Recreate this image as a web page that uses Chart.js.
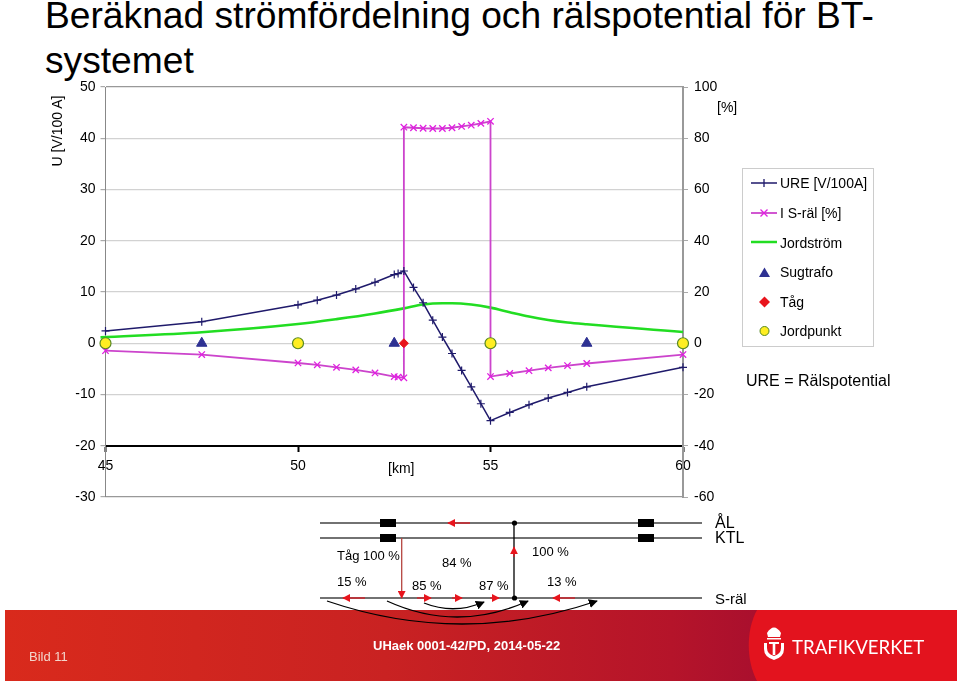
<!DOCTYPE html>
<html lang="sv">

<head>
  <meta charset="UTF-8">
  <title>Beräknad strömfördelning och rälspotential för BT-systemet</title>
  <script src="https://cdn.jsdelivr.net/npm/chart.js"></script>
  <style>
    body {
      margin: 0;
      background: #fff;
      font-family: "Liberation Sans", Arial, sans-serif;
      color: #000;
    }

    #page {
      position: relative;
      width: 960px;
      height: 683px;
      overflow: hidden;
    }

    #page canvas,
    #page svg {
      position: absolute;
      left: 0;
      top: 0;
    }

    .t {
      position: absolute;
      white-space: nowrap;
      transform: translateY(-50%);
      font-size: 13px;
    }

    .leg {
      font-size: 14px;
    }

    .title {
      position: absolute;
      left: 45px;
      font-size: 37.2px;
      line-height: 45px;
      white-space: nowrap;
    }

    #footer {
      position: absolute;
      left: 5px;
      top: 610px;
      width: 952px;
      height: 71px;
      background: linear-gradient(90deg, #d92a1c 0%, #c92222 40%, #b5142a 70%, #a80f2e 80%);
    }
  </style>
</head>

<body>
  <div id="page">
    <div class="title" style="top:-7px">Beräknad strömfördelning och rälspotential för BT-</div>
    <div class="title" style="top:38px">systemet</div>
    <div id="footer"></div>
    <canvas id="chart" width="960" height="683"></canvas>

    <svg width="960" height="683" viewBox="0 0 960 683">
      <defs>
        <marker id="red" viewBox="0 0 10 10" refX="9" refY="5" markerWidth="8" markerHeight="8" markerUnits="userSpaceOnUse" orient="auto">
          <path d="M0 0L10 5L0 10z" fill="#e8141c" />
        </marker>
        <marker id="blk" viewBox="0 0 10 10" refX="9" refY="5" markerWidth="9" markerHeight="9" markerUnits="userSpaceOnUse" orient="auto">
          <path d="M0 0L10 5L0 10z" fill="#000" />
        </marker>
      </defs>

      <!-- red logo field -->
      <path d="M757 610C746 630 746 660 757 681H957V610z" fill="#e3131e" />

      <!-- legend -->
      <rect x="742.5" y="168.5" width="131" height="178" fill="#fff" stroke="#ccc" />
      <path d="M751 183H777M764 179V187" stroke="#1f1a6b" stroke-width="1.3" fill="none" />
      <path d="M751 213H777" stroke="#cc44cc" stroke-width="1.8" />
      <path d="M760.5 209.5L767.5 216.5M767.5 209.5L760.5 216.5" stroke="#e020e0" stroke-width="1.3" />
      <path d="M751 242H777" stroke="#22dd22" stroke-width="2.5" />
      <path d="M759 277L764.5 267.5L770 277z" fill="#2e3192" />
      <path d="M764.5 296.5L770 302L764.5 307.5L759 302z" fill="#e8141c" />
      <circle cx="764.5" cy="331" r="4.5" fill="#ffee22" stroke="#558822" />

      <!-- track diagram -->
      <path d="M320 523H702M320 538H702M320 598H702" stroke="#444" stroke-width="1.3" fill="none" />
      <path d="M380 519h16v8h-16zM380 534h16v8h-16zM638 519h16v8h-16zM638 534h16v8h-16z" fill="#000" />
      <path d="M514 523V598" stroke="#000" stroke-width="1.3" />
      <circle cx="514.5" cy="523" r="2.6" fill="#000" />
      <circle cx="514.5" cy="598" r="2.6" fill="#000" />
      <path d="M401.7 538V598" stroke="#b5453f" stroke-width="1.3" marker-end="url(#red)" />
      <g stroke="#e8141c" stroke-width="1.2" fill="none" marker-end="url(#red)">
        <path d="M470 523H448" marker-end="url(#red)" />
        <path d="M514 557V547" marker-end="url(#red)" />
        <path d="M365 598H343" marker-end="url(#red)" />
        <path d="M417 598H431" marker-end="url(#red)" />
        <path d="M452 598H462" marker-end="url(#red)" />
        <path d="M490 598H499" marker-end="url(#red)" />
        <path d="M575 598H553" marker-end="url(#red)" />
      </g>
      <g stroke="#000" stroke-width="1.3" fill="none">
        <path d="M327 601Q462 647 597 601" marker-end="url(#blk)" />
        <path d="M387 601Q457 633 528 601" marker-end="url(#blk)" />
        <path d="M424 603Q454 615 484 602" marker-end="url(#blk)" />
      </g>

      <!-- crest -->
      <g fill="#fff">
        <path d="M767 633Q774 622 781 633L780 637H768z" />
        <rect x="767" y="638" width="14" height="1.5" />
        <path d="M769 642H779V644H775.3V655H772.7V644H769z" />
        <path d="M764 643H767V648Q767 654 774 656Q781 654 781 648V643H784V649Q784 657 774 660Q764 657 764 649z" />
      </g>
    </svg>

    <span class="t" style="left:717px;top:107px;font-size:14px">[%]</span>
    <span class="t" style="left:388px;top:468px;font-size:14px">[km]</span>
    <span class="t" style="left:57px;top:131px;font-size:14px;transform:translate(-50%,-50%) rotate(-90deg)">U [V/100 A]</span>

    <span class="t leg" style="left:780px;top:183px">URE [V/100A]</span>
    <span class="t leg" style="left:780px;top:213px">I S-räl [%]</span>
    <span class="t leg" style="left:780px;top:243px">Jordström</span>
    <span class="t leg" style="left:780px;top:272px">Sugtrafo</span>
    <span class="t leg" style="left:780px;top:302px">Tåg</span>
    <span class="t leg" style="left:780px;top:331px">Jordpunkt</span>
    <span class="t" style="left:746px;top:381px;font-size:16px">URE = Rälspotential</span>

    <span class="t" style="left:337px;top:555px">Tåg 100 %</span>
    <span class="t" style="left:442px;top:562px">84 %</span>
    <span class="t" style="left:532px;top:551px">100 %</span>
    <span class="t" style="left:337px;top:581px">15 %</span>
    <span class="t" style="left:412px;top:585px">85 %</span>
    <span class="t" style="left:479px;top:585px">87 %</span>
    <span class="t" style="left:547px;top:581px">13 %</span>
    <span class="t" style="left:715px;top:523px;font-size:16px">ÅL</span>
    <span class="t" style="left:715px;top:538px;font-size:16px">KTL</span>
    <span class="t" style="left:715px;top:598px;font-size:15px">S-räl</span>

    <span class="t" style="left:29px;top:656px;color:#f3d6cc">Bild 11</span>
    <span class="t" style="left:373px;top:645px;color:#fff;font-weight:bold;font-size:13px">UHaek 0001-42/PD, 2014-05-22</span>
    <span class="t" style="left:792px;top:647px;color:#fff;font-size:18.6px;font-family:Lato">TRAFIKVERKET</span>
  </div>

  <script>
    // km along the line
    const kmUre = [45, 47.5, 50, 50.5, 51, 51.5, 52, 52.5, 52.6, 52.75, 53, 53.25, 53.5, 53.75, 54, 54.25, 54.5, 54.75, 55, 55.5, 56, 56.5, 57, 57.5, 60];
    const ure = [2.4, 4.2, 7.5, 8.4, 9.4, 10.6, 11.9, 13.4, 13.6, 14.1, 10.9, 7.9, 4.5, 1.2, -2.0, -5.3, -8.5, -11.8, -15.1, -13.5, -12.0, -10.7, -9.6, -8.5, -4.7];

    const kmRail = [45, 47.5, 50, 50.5, 51, 51.5, 52, 52.5, 52.6, 52.75, 52.75, 53, 53.25, 53.5, 53.75, 54, 54.25, 54.5, 54.75, 55, 55, 55.5, 56, 56.5, 57, 57.5, 60];
    const railCurrent = [-2.9, -4.4, -7.7, -8.4, -9.4, -10.4, -11.6, -13.0, -13.2, -13.5, 84.3, 84.1, 83.9, 83.8, 83.8, 84.1, 84.6, 85.1, 85.8, 86.6, -13.0, -11.8, -10.7, -9.6, -8.7, -7.9, -4.4];

    const kmEarth = [44.87, 47.5, 50, 51, 52, 52.75, 53.25, 53.75, 54, 54.5, 55, 55.5, 56, 56.5, 57, 57.5, 60, 60.12];
    const earthCurrent = [2.3, 4.3, 7.5, 9.4, 11.6, 13.6, 15.1, 15.6, 15.6, 15.1, 13.9, 12.1, 10.4, 9.1, 8.1, 7.4, 4.4, 4.3];

    const kmTransformers = [47.5, 52.5, 57.5];
    const kmTrain = [52.75];
    const kmEarthPoints = [45, 50, 55, 60];

    const toPoints = (xs, ys) => xs.map((x, i) => ({ x: x, y: ys ? ys[i] : 0 }));

    new Chart(document.getElementById('chart'), {
      type: 'scatter',
      data: {
        datasets: [
          { label: 'Tåg', data: toPoints(kmTrain), yAxisID: 'yL', pointStyle: 'rectRot', radius: 4.5, backgroundColor: '#e8141c', borderColor: '#e8141c' },
          { label: 'Jordpunkt', data: toPoints(kmEarthPoints), yAxisID: 'yL', pointStyle: 'circle', radius: 5.5, backgroundColor: '#ffee22', borderColor: '#558822', borderWidth: 1.2 },
          { label: 'Sugtrafo', data: toPoints(kmTransformers), yAxisID: 'yL', pointStyle: 'triangle', radius: 6, backgroundColor: '#2e3192', borderColor: '#2e3192' },
          { label: 'URE [V/100A]', data: toPoints(kmUre, ure), yAxisID: 'yL', showLine: true, borderColor: '#1f1a6b', borderWidth: 1.5, pointStyle: 'cross', radius: 4, pointBorderWidth: 1.2, pointBorderColor: '#1f1a6b' },
          { label: 'I S-räl [%]', data: toPoints(kmRail, railCurrent), yAxisID: 'yR', showLine: true, borderColor: '#cc44cc', borderWidth: 1.8, pointStyle: 'crossRot', radius: 4.5, pointBorderWidth: 1.3, pointBorderColor: '#e020e0' },
          { label: 'Jordström', data: toPoints(kmEarth, earthCurrent), yAxisID: 'yR', showLine: true, borderColor: '#22dd22', borderWidth: 2.6, radius: 0, cubicInterpolationMode: 'monotone' }
        ]
      },
      options: {
        responsive: false,
        animation: false,
        clip: false,
        layout: { padding: { left: 65.5, right: 237, top: 87, bottom: 186 } },
        plugins: { legend: { display: false }, tooltip: { enabled: false } },
        scales: {
          x: {
            type: 'linear',
            min: 45,
            max: 60,
            position: { yL: -20 },
            afterBuildTicks: axis => { axis.ticks = [45, 50, 55, 60].map(v => ({ value: v })); },
            border: { color: '#000', width: 2 },
            grid: { drawOnChartArea: false, drawTicks: true, tickColor: '#000', tickWidth: 2, tickLength: 5 },
            ticks: { color: '#000', font: { family: 'Liberation Sans', size: 14 }, padding: 7, maxRotation: 0 }
          },
          yL: {
            axis: 'y',
            position: 'left',
            min: -30,
            max: 50,
            afterFit: axis => { axis.width = 40; },
            border: { color: '#888', width: 1 },
            grid: {
              // frame is darker than the inner grid lines
              color: ctx => (ctx.tick && (ctx.tick.value === 50 || ctx.tick.value === -30)) ? '#999' : '#d2d2d2',
              lineWidth: 1.2,
              tickColor: '#aaa',
              tickLength: 5
            },
            ticks: { stepSize: 10, color: '#000', font: { family: 'Liberation Sans', size: 14 }, padding: 5 }
          },
          yR: {
            axis: 'y',
            position: 'right',
            min: -60,
            max: 100,
            afterFit: axis => { axis.width = 40; },
            border: { color: '#999', width: 2 },
            grid: { drawOnChartArea: false, tickColor: '#aaa', tickLength: 5 },
            ticks: { stepSize: 20, color: '#000', font: { family: 'Liberation Sans', size: 14 }, padding: 6 }
          }
        }
      }
    });
  </script>
</body>

</html>
